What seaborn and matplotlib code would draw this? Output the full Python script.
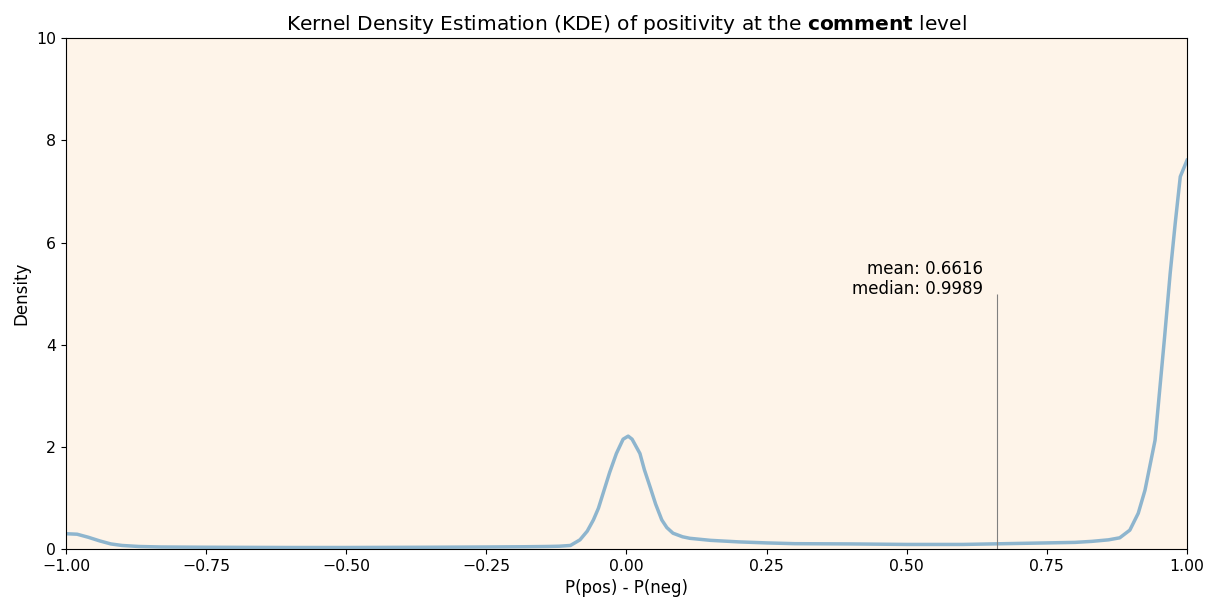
import matplotlib
matplotlib.use("Agg")
import matplotlib.pyplot as plt
import seaborn as sns
import pandas as pd

# KDE curve
x_vals = [-1.0, -0.98, -0.96, -0.94, -0.92, -0.90, -0.87, -0.83, -0.75, -0.6, -0.5, -0.35,
          -0.25, -0.18, -0.14, -0.12, -0.10, -0.083, -0.07, -0.059, -0.05, -0.038, -0.03,
          -0.018, -0.006, 0.003, 0.01, 0.024, 0.032, 0.042, 0.052, 0.063, 0.072,
          0.083, 0.10, 0.113, 0.15, 0.2, 0.25, 0.3, 0.4, 0.5, 0.6, 0.7, 0.75, 0.8,
          0.83, 0.86, 0.88, 0.898, 0.913, 0.925, 0.943, 0.960, 0.970, 0.979, 0.988, 1.0]
y_vals = [0.30, 0.29, 0.23, 0.16, 0.10, 0.07, 0.05, 0.04, 0.035, 0.03, 0.03, 0.035,
          0.04, 0.045, 0.05, 0.055, 0.07, 0.18, 0.35, 0.57, 0.80, 1.22, 1.50,
          1.87, 2.15, 2.21, 2.15, 1.87, 1.55, 1.22, 0.88, 0.57, 0.42,
          0.31, 0.24, 0.21, 0.17, 0.14, 0.12, 0.105, 0.10, 0.09, 0.09, 0.11, 0.12, 0.13,
          0.15, 0.18, 0.22, 0.37, 0.70, 1.15, 2.13, 4.15, 5.40, 6.38, 7.29, 7.61]

mean_val = 0.6616
median_val = 0.9989

df = pd.DataFrame({"x": x_vals, "y": y_vals})

fig = plt.figure(figsize=(12.1, 6.06), dpi=100)
ax = fig.add_axes([0.0545, 0.094, 0.9265, 0.843])
ax.set_facecolor("#fef4e9")

sns.lineplot(data=df, x="x", y="y", ax=ax, color="#1f77b4", alpha=0.5, linewidth=2.5)

ax.vlines(mean_val, 0, 5, color="gray", linewidth=0.8)
ax.text(mean_val - 0.025, 4.92, f"mean: {mean_val}\nmedian: {median_val}",
        ha="right", va="bottom", fontsize=12, linespacing=1.1)

ax.set_xlim(-1, 1)
ax.set_ylim(0, 10)
ax.set_xticks([-1.0, -0.75, -0.5, -0.25, 0.0, 0.25, 0.5, 0.75, 1.0])
ax.set_xticklabels(["\u22121.00", "\u22120.75", "\u22120.50", "\u22120.25", "0.00",
                    "0.25", "0.50", "0.75", "1.00"])
ax.set_yticks([0, 2, 4, 6, 8, 10])
ax.tick_params(labelsize=11.3)
ax.set_xlabel("P(pos) - P(neg)", fontsize=12)
ax.set_ylabel("Density", fontsize=12)
ax.set_title(r"Kernel Density Estimation (KDE) of positivity at the $\bf{comment}$ level",
             fontsize=14.5)

fig.savefig("out.png", dpi=100)
